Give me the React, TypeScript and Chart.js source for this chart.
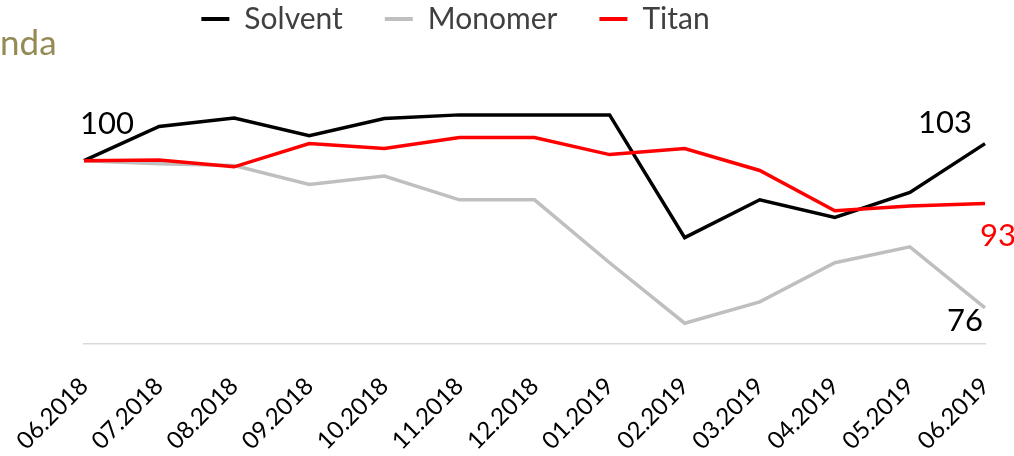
import React, { useEffect, useRef } from "react";
import { Chart, registerables } from "chart.js";

Chart.register(...registerables);

const categories = [
  "06.2018", "07.2018", "08.2018", "09.2018", "10.2018", "11.2018", "12.2018",
  "01.2019", "02.2019", "03.2019", "04.2019", "05.2019", "06.2019",
];
const solvent = [100, 105.6, 107.0, 104.1, 106.9, 107.5, 107.5, 107.5, 87.4, 93.6, 90.7, 94.8, 102.8];
const monomer = [100, 99.5, 99.2, 96.1, 97.5, 93.6, 93.6, 83.3, 73.4, 76.9, 83.3, 85.9, 75.9];
const titan = [100, 100.1, 99.0, 102.8, 102.0, 103.8, 103.8, 101.0, 102.0, 98.4, 91.8, 92.6, 93.0];
const seriesNames = ["Solvent", "Monomer", "Titan"];
const seriesColors = ["#000000", "#bfbfbf", "#ff0000"];
const axisTitle = "nda";

const FONT = "Lato, 'Open Sans', sans-serif";

// value labels: dataset index, point index, colour, placement
const valueLabels = [
  { ds: 0, idx: 0, color: "#000000", align: "left", dx: -4, dy: -27 },
  { ds: 0, idx: 12, color: "#000000", align: "right", dx: -13, dy: -11 },
  { ds: 2, idx: 12, color: "#ff0000", align: "left", dx: -5, dy: 43 },
  { ds: 1, idx: 12, color: "#000000", align: "right", dx: -2, dy: 23 },
];

const valueLabelPlugin = {
  id: "valueLabels",
  afterDatasetsDraw(chart: any) {
    const ctx = chart.ctx;
    ctx.save();
    ctx.font = `31px ${FONT}`;
    ctx.textBaseline = "alphabetic";
    valueLabels.forEach((l) => {
      const meta = chart.getDatasetMeta(l.ds);
      const pt = meta.data[l.idx];
      if (!pt) return;
      const v = chart.data.datasets[l.ds].data[l.idx] as number;
      ctx.fillStyle = l.color;
      ctx.textAlign = l.align;
      ctx.fillText(String(Math.round(v)), pt.x + l.dx, pt.y + l.dy);
    });
    ctx.restore();
  },
};

const TOP_PAD = 17.6;
const LEGEND_DX = -79;
const LEGEND_DY = -38 - TOP_PAD;

const legendShiftPlugin = {
  id: "legendShift",
  afterLayout(chart: any) {
    const lg = chart.legend;
    if (!lg) return;
    lg.left += LEGEND_DX;
    lg.right += LEGEND_DX;
    lg.top += LEGEND_DY;
    lg.bottom += LEGEND_DY;
  },
};

export default function App() {
  const ref = useRef<HTMLCanvasElement | null>(null);

  useEffect(() => {
    document.body.style.margin = "0";
    if (!ref.current) return;
    const data = [solvent, monomer, titan];
    const chart = new Chart(ref.current, {
      type: "line",
      data: {
        labels: categories,
        datasets: seriesNames.map((name, i) => ({
          label: name,
          data: data[i],
          borderColor: seriesColors[i],
          backgroundColor: seriesColors[i],
          borderWidth: 3.5,
          pointRadius: 0,
          tension: 0,
          order: 2 - i,
          clip: false as any,
        })),
      },
      options: {
        animation: false,
        responsive: false,
        layout: { padding: { left: 84, right: 29, top: TOP_PAD, bottom: 0 } },
        plugins: {
          tooltip: { enabled: false },
          legend: {
            position: "top",
            labels: {
              font: { family: FONT, size: 30 },
              color: "#404040",
              boxWidth: 28,
              boxHeight: 4,
              padding: 42,
              generateLabels: (chart: any) =>
                Chart.defaults.plugins.legend.labels
                  .generateLabels(chart)
                  .sort((a: any, b: any) => a.datasetIndex - b.datasetIndex)
                  .map((it: any) => ({ ...it, lineWidth: 0, fillStyle: it.strokeStyle })),
            },
          },
        },
        scales: {
          x: {
            offset: false,
            grid: { display: false },
            border: { display: true, color: "#d9d9d9", width: 1.5 },
            ticks: {
              color: "#000000",
              font: { family: FONT, size: 24 },
              minRotation: 45,
              maxRotation: 45,
              padding: 20,
              autoSkip: false,
            },
            afterFit: (scale: any) => {
              scale.height = 112;
              scale.paddingLeft = 0;
              scale.paddingRight = 0;
            },
          },
          y: {
            display: false,
            min: 70,
            max: 110,
          },
        },
      },
      plugins: [valueLabelPlugin, legendShiftPlugin],
    });
    return () => chart.destroy();
  }, []);

  return (
    <div style={{ position: "fixed", left: 0, top: 0, width: 1014, height: 456, overflow: "hidden", background: "#fff" }}>
      <canvas ref={ref} width={1014} height={456} style={{ display: "block" }} />
      <div
        style={{
          position: "absolute",
          left: 0,
          top: 24,
          fontFamily: FONT,
          fontSize: 35,
          lineHeight: 1,
          color: "#948a54",
        }}
      >
        {axisTitle}
      </div>
    </div>
  );
}
